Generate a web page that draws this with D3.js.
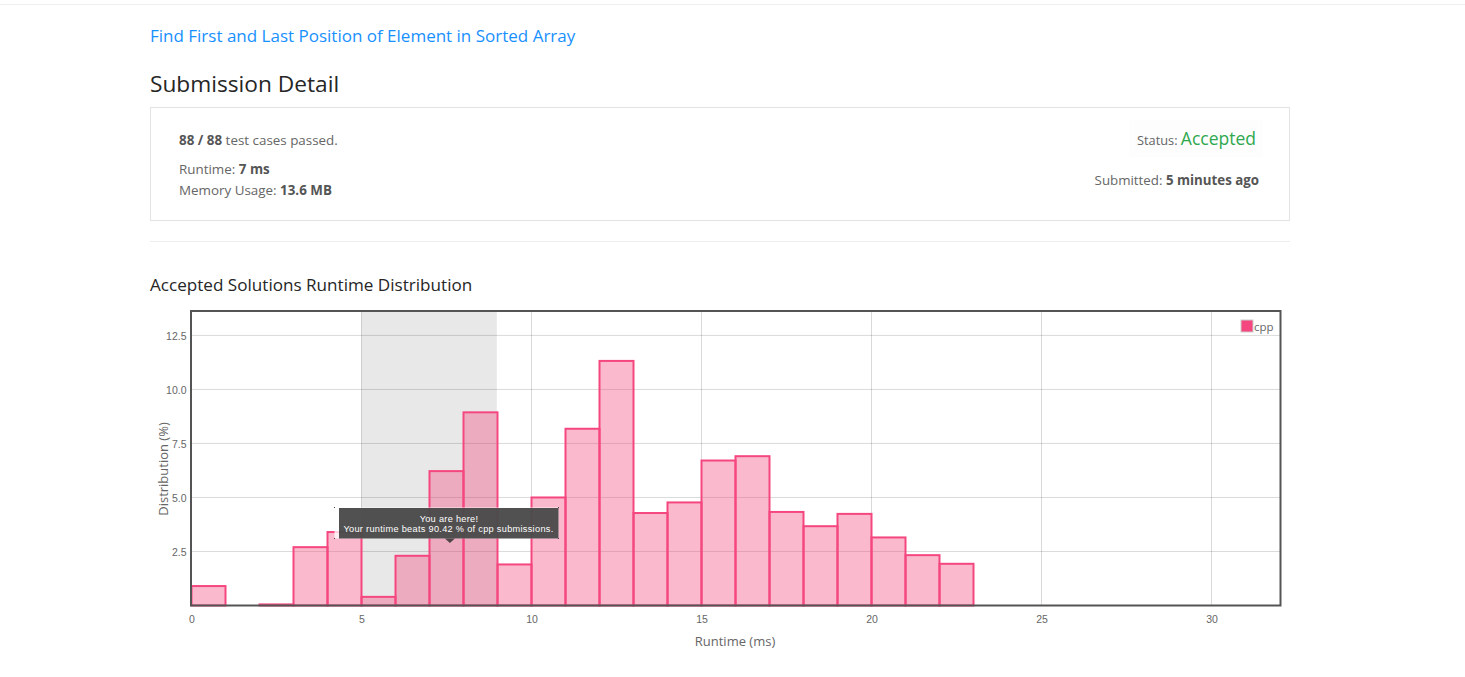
<!DOCTYPE html>
<html>
<head>
<meta charset="utf-8">
<title>Submission Detail</title>
<script src="https://cdn.jsdelivr.net/npm/d3@7"></script>
<style>
    html, body { margin: 0; padding: 0; background: #fff; overflow: hidden; }
    svg { display: block; font-family: "Open Sans", "Noto Sans", sans-serif; }
    .tick text { font-size: 10.5px; fill: #666; }
</style>
</head>
<body>
<div id="page"></div>
<script>
// Chart data
const runtimeBins = [0, 1, 2, 3, 4, 5, 6, 7, 8, 9, 10, 11, 12, 13, 14, 15, 16, 17, 18, 19, 20, 21, 22]
const distribution = [0.9, 0, 0.05, 2.7, 3.4, 0.4, 2.3, 6.22, 8.94, 1.9, 5.0, 8.18, 11.32, 4.28, 4.77, 6.71, 6.91, 4.33, 3.67, 4.24, 3.15, 2.33, 1.93]
const xTicks = [0, 5, 10, 15, 20, 25, 30]
const yTicks = [2.5, 5, 7.5, 10, 12.5]
const highlightRange = [5, 8.98]
const yourRuntime = 7.6

const WIDTH = 1465
const HEIGHT = 677
const PINK = "#f5477f"

const svg = d3.select("#page").append("svg")
    .attr("width", WIDTH)
    .attr("height", HEIGHT)

// Small helper for the page text around the chart
function addText(x, y, size, color, parts, anchor) {
    const t = svg.append("text")
        .attr("x", x)
        .attr("y", y)
        .attr("font-size", size)
        .attr("fill", color)
        .attr("text-anchor", anchor || "start")
    parts.forEach(p => {
        t.append("tspan")
            .attr("font-weight", p.bold ? 700 : 400)
            .attr("fill", p.color || color)
            .attr("font-size", p.size || size)
            .text(p.text)
    })
    return t
}

// Page furniture
svg.append("line").attr("x1", 0).attr("x2", WIDTH).attr("y1", 4.5).attr("y2", 4.5).attr("stroke", "#eeeeee")
addText(150, 42, 17, "#1890ff", [{ text: "Find First and Last Position of Element in Sorted Array" }])
addText(150, 92, 22.7, "#262626", [{ text: "Submission Detail" }])

svg.append("rect")
    .attr("x", 150.5).attr("y", 107.5).attr("width", 1139).attr("height", 113)
    .attr("fill", "#fff").attr("stroke", "#e3e3e3")
svg.append("line").attr("x1", 150).attr("x2", 1290).attr("y1", 241.5).attr("y2", 241.5).attr("stroke", "#eeeeee")

addText(179, 145, 13.4, "#666", [{ text: "88 / 88", bold: true, color: "#555" }, { text: " test cases passed." }])
addText(179, 174, 13.4, "#666", [{ text: "Runtime: " }, { text: "7 ms", bold: true, color: "#555" }])
addText(179, 195, 13.4, "#666", [{ text: "Memory Usage: " }, { text: "13.6 MB", bold: true, color: "#555" }])

svg.append("rect").attr("x", 1129).attr("y", 120).attr("width", 134).attr("height", 37).attr("fill", "#fdfdfd")
addText(1256, 145, 12.8, "#666", [{ text: "Status: " }, { text: "Accepted", color: "#2fa84f", size: 17.5 }], "end")
addText(1259, 185, 13.3, "#666", [{ text: "Submitted: " }, { text: "5 minutes ago", bold: true, color: "#555" }], "end")

addText(150, 291, 17.1, "#262626", [{ text: "Accepted Solutions Runtime Distribution" }])

// Chart area
const margin = { left: 191.5, right: 1280.5, top: 311, bottom: 605.5 }
const x = d3.scaleLinear().domain([0, 32]).range([margin.left, margin.left + 34 * 32])
const y = d3.scaleLinear().domain([0, 13.63]).range([margin.bottom, margin.top])

// Highlight band sits behind the grid
svg.append("rect")
    .attr("x", x(highlightRange[0]))
    .attr("y", margin.top)
    .attr("width", x(highlightRange[1]) - x(highlightRange[0]))
    .attr("height", margin.bottom - margin.top)
    .attr("fill", "#e8e8e8")

// Grid lines
svg.append("g").selectAll("line")
    .data(xTicks.filter(d => d > 0))
    .enter().append("line")
    .attr("x1", d => x(d)).attr("x2", d => x(d))
    .attr("y1", margin.top).attr("y2", margin.bottom)
    .attr("stroke", "rgba(0,0,0,0.15)")
svg.append("g").selectAll("line")
    .data(yTicks)
    .enter().append("line")
    .attr("x1", margin.left).attr("x2", margin.right)
    .attr("y1", d => y(d)).attr("y2", d => y(d))
    .attr("stroke", "rgba(0,0,0,0.15)")

// Bars, one per runtime bin
svg.append("g").selectAll("rect")
    .data(runtimeBins)
    .enter().append("rect")
    .attr("x", d => x(d))
    .attr("y", (d, i) => y(distribution[i]))
    .attr("width", d => x(d + 1) - x(d))
    .attr("height", (d, i) => y(0) - y(distribution[i]))
    .attr("fill", PINK)
    .attr("fill-opacity", 0.38)
    .attr("stroke", PINK)
    .attr("stroke-width", 2)

// Axes
const xAxis = svg.append("g")
    .attr("transform", `translate(0,${margin.bottom})`)
    .call(d3.axisBottom(x).tickValues(xTicks).tickSize(0).tickPadding(10).tickFormat(d3.format("d")))
xAxis.select(".domain").remove()
const yAxis = svg.append("g")
    .attr("transform", `translate(${margin.left},1)`)
    .call(d3.axisLeft(y).tickValues(yTicks).tickSize(0).tickPadding(5).tickFormat(d3.format(".1f")))
yAxis.select(".domain").remove()

// Plot frame
svg.append("rect")
    .attr("x", margin.left - 0.5)
    .attr("y", margin.top)
    .attr("width", margin.right - margin.left + 0.5)
    .attr("height", margin.bottom - margin.top)
    .attr("fill", "none")
    .attr("stroke", "#545454")
    .attr("stroke-width", 2)

// Axis titles
svg.append("text")
    .attr("x", 735).attr("y", 646)
    .attr("text-anchor", "middle")
    .attr("font-size", 13)
    .attr("fill", "#666")
    .text("Runtime (ms)")
svg.append("text")
    .attr("transform", "translate(168,469) rotate(-90)")
    .attr("text-anchor", "middle")
    .attr("font-size", 13)
    .attr("fill", "#666")
    .text("Distribution (%)")

// Legend
svg.append("rect").attr("x", 1241).attr("y", 320).attr("width", 12).attr("height", 12)
    .attr("fill", PINK).attr("stroke", "#cccccc")
addText(1254, 331, 11.5, "#666", [{ text: "cpp" }])

// Tooltip pointing at the current runtime
const tip = svg.append("g")
const tipX = x(yourRuntime)
tip.append("rect")
    .attr("x", 334.5).attr("y", 507.5).attr("width", 224).attr("height", 31)
    .attr("fill", "#fff").attr("fill-opacity", 0.75)
tip.append("rect")
    .attr("x", 339).attr("y", 508).attr("width", 219.5).attr("height", 30.5)
    .attr("fill", "#333").attr("fill-opacity", 0.85)
tip.append("path")
    .attr("d", `M${tipX - 5},538.5 L${tipX + 5},538.5 L${tipX},543 Z`)
    .attr("fill", "#333").attr("fill-opacity", 0.85)
// little corner marks round the tooltip box
tip.selectAll("rect.corner")
    .data([[334, 507], [558, 507], [334, 538], [558, 538]])
    .enter().append("rect")
    .attr("class", "corner")
    .attr("x", d => d[0]).attr("y", d => d[1])
    .attr("width", 1).attr("height", 1)
    .attr("fill", "#444")
tip.append("text")
    .attr("x", 449).attr("y", 521.7)
    .attr("text-anchor", "middle").attr("font-size", 9.2).attr("fill", "#fff")
    .attr("font-family", "Liberation Sans")
    .attr("letter-spacing", 0.3)
    .text("You are here!")
tip.append("text")
    .attr("x", 448.5).attr("y", 532.4)
    .attr("text-anchor", "middle").attr("font-size", 9.2).attr("fill", "#fff")
    .attr("font-family", "Liberation Sans")
    .attr("letter-spacing", 0.3)
    .text("Your runtime beats 90.42 % of cpp submissions.")
</script>
</body>
</html>
